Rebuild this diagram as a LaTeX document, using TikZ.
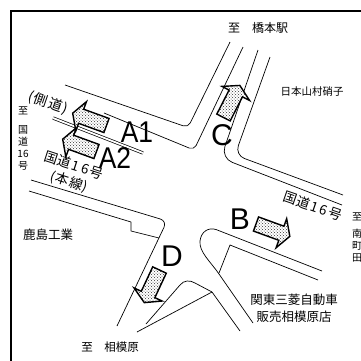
\documentclass[tikz,border=0pt]{standalone}
\usepackage{fontspec}
\newfontfamily\jp{Noto Sans CJK JP}
\newfontfamily\lat{Liberation Sans}
\usetikzlibrary{patterns}
\newcommand{\myarrow}[3]{%
  \draw[arrowbox, shift={(#1,#2)}, rotate=#3] (0,-7.5) -- (27,-7.5) -- (27,-15.5) -- (36,0) -- (27,15.5) -- (27,7.5) -- (0,7.5) -- cycle;}
\newcommand{\sixteen}{\kern1.5pt1\kern2.5pt6\kern1.5pt}
\begin{document}
\begin{tikzpicture}[x=1pt,y=-1pt,
  road/.style={line width=0.7pt, line join=round},
  arrowbox/.style={line width=1.4pt, line join=miter, preaction={fill=white}, pattern=crosshatch dots, pattern color=black!80},
  letter/.style={font=\lat\fontsize{30}{30}\selectfont, inner sep=0pt},
  jtext/.style={font=\jp\fontsize{#1}{#1}\selectfont, inner sep=0pt}]
\useasboundingbox (0,0) rectangle (361,360);
\clip (0,0) rectangle (361,360);
\fill[white] (0,0) rectangle (361,360);
% frame
\draw[line width=2pt] (10.8,370) -- (10.8,10.8) -- (370,10.8);
% north-west block
\draw[road, rounded corners=5pt] (65,85) -- (188,127.5) -- (230,42);
\draw[road, rounded corners=5pt] (104,113) -- (194,150) -- (243,47);
\draw[road, double, double distance=1.8pt] (53,118) -- (143,153);
% north-east block
\draw[road, rounded corners=12pt] (258,50) -- (221,158) -- (342,205);
\draw[road, rounded corners=10pt] (270,57) -- (235,155) -- (343,195);
% south-east block
\draw[road] (253,323) -- (219,274) .. controls (210,261) and (199,252) .. (200,241) .. controls (201,232) and (208,227) .. (216,229.5) -- (322,271);
\draw[road] (318,280) -- (230,245) -- (219,273);
% south-west block
\draw[road, rounded corners=7pt] (31,180) -- (167,221) -- (117,326);
\draw[road] (29,191) -- (131,222) -- (131,231) -- (159,238);
% island
\draw[road] (137,332) -- (212,292);
\draw[road] (146,324) -- (180,285) .. controls (184,280) and (190,280) .. (195,283) -- (212,292) -- (240,331);
% arrows
\myarrow{96.5}{151.5}{160}
\myarrow{106.5}{125.5}{160}
\myarrow{256}{224}{-20}
\myarrow{223.5}{117.5}{63}
\myarrow{159.5}{270}{245}
% letters
\node[letter] (lA1) at (137,132) {\scalebox{0.88}[1]{A1}};
\node[letter] (lA2) at (115,158) {\scalebox{0.88}[1]{A2}};
\node[letter] (lB) at (240,219) {B};
\node[letter] (lC) at (222,135) {C};
\node[letter] (lD) at (172,256) {D};
% texts
\node[jtext=12] (t1) at (258,28) {至　橋本駅};
\node[jtext=10.5] (t2) at (312,92) {日本山村硝子};
\node[jtext=14, rotate=-19] (t3) at (48,103) {(\kern1pt 側\kern1.5pt 道\kern1pt)};
\node[jtext=13.5, rotate=-18] (t4) at (74,165) {国道\sixteen 号};
\node[jtext=13.5, rotate=-18] (t5) at (69,182) {(\kern0.5pt 本\kern1pt 線\kern0.5pt)};
\node[jtext=13.5, rotate=-19] (t6) at (313,206) {国道\sixteen 号};
\node[jtext=12.5] (t7) at (48,235) {鹿島工業};
\node[font=\jp\fontsize{12.5}{17}\selectfont, align=center, inner sep=0pt] (t8) at (294,308) {関東三菱自動車\\販売相模原店};
\node[jtext=11.5] (t9) at (110,347) {至　相模原};
\node[font=\jp\fontsize{10}{12}\selectfont, align=center, inner sep=0pt] (t10) at (23,138.5) {至\\[7pt]国\\道\\16\\号};
\node[font=\jp\fontsize{10}{12}\selectfont, align=center, inner sep=0pt] (t11) at (357,237.5) {至\\[5pt]南\\町\\田};
\end{tikzpicture}
\end{document}
